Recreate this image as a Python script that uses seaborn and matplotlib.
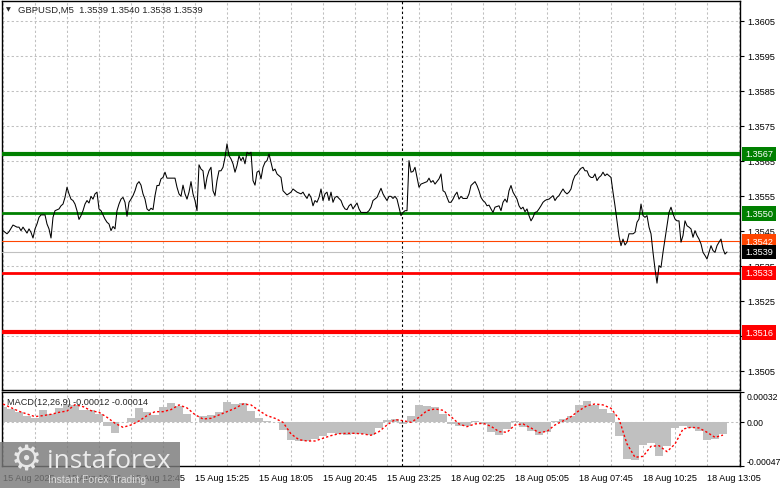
import numpy as np
import pandas as pd
import seaborn as sns
import matplotlib.pyplot as plt
import matplotlib.transforms as mtransforms
from matplotlib.patches import Rectangle

# GBPUSD M5 closes (bar number counted from the left edge)
price_bars = [
    0, 2, 3, 5, 7, 8, 9, 10, 12, 13,
    14, 15, 16, 17, 18, 19, 21, 22, 23, 24,
    25, 26, 28, 29, 30, 31, 32, 33, 34, 35,
    36, 37, 38, 39, 40, 41, 42, 43, 44, 45,
    46, 47, 48, 49, 50, 51, 52, 53, 54, 55,
    56, 57, 58, 59, 60, 61, 62, 63, 64, 65,
    66, 67, 68, 69, 70, 71, 72, 73, 74, 75,
    76, 77, 78, 79, 80, 81, 82, 84, 86, 87,
    88, 89, 90, 91, 92, 93, 94, 95, 96, 97,
    98, 99, 100, 101, 102, 103, 104, 105, 106, 107,
    108, 109, 110, 111, 112, 113, 114, 115, 116, 117,
    118, 119, 120, 121, 122, 123, 124, 125, 126, 127,
    128, 129, 130, 131, 132, 133, 134, 135, 136, 137,
    138, 139, 140, 142, 144, 145, 147, 149, 150, 151,
    152, 153, 154, 155, 156, 157, 158, 159, 160, 161,
    162, 163, 164, 165, 166, 167, 169, 170, 171, 172,
    173, 174, 175, 176, 177, 178, 179, 182, 183, 184,
    185, 187, 189, 190, 191, 192, 193, 194, 195, 196,
    197, 198, 199, 200, 201, 202, 203, 204, 205, 206,
    207, 208, 209, 212, 213, 214, 215, 216, 218, 219,
    220, 221, 222, 223, 224, 225, 226, 227, 228, 229,
    230, 232, 233, 234, 236, 237, 238, 239, 240, 241,
    242, 243, 244, 245, 246, 248, 249, 250, 251, 252,
    253, 254, 255, 256, 257, 258, 259, 260, 261, 262,
    263, 264, 265, 266, 267, 268, 269, 270, 271, 272,
    273, 274, 275, 276, 277, 278, 279, 280, 281, 282,
    283, 284, 285, 286, 287, 288, 289, 290, 291, 292,
    293, 294, 295, 296, 297, 298, 299, 300, 301, 302,
    303, 304, 305, 306, 307, 308, 309, 310, 311, 312,
    313, 314, 315, 316, 317, 318, 319, 320, 321, 322,
    323, 324, 325, 326, 327, 328, 329, 330, 331, 332,
    333, 334, 335, 336, 337, 338, 339, 340, 341, 342,
    343, 344, 345, 346, 347, 348, 349, 350, 351, 352,
    353, 354, 355, 356, 357, 358, 359, 360, 361, 362,
]
price_close = [
    1.35451, 1.35442, 1.35448, 1.35467, 1.35461, 1.35461, 1.35451, 1.35461, 1.35444, 1.35456,
    1.35446, 1.35430, 1.35456, 1.35470, 1.35489, 1.35496, 1.35496, 1.35470, 1.35456, 1.35430,
    1.35489, 1.35508, 1.35513, 1.35522, 1.35527, 1.35546, 1.35575, 1.35556, 1.35541, 1.35537,
    1.35527, 1.35508, 1.35483, 1.35494, 1.35508, 1.35527, 1.35537, 1.35530, 1.35549, 1.35541,
    1.35556, 1.35561, 1.35513, 1.35508, 1.35496, 1.35484, 1.35475, 1.35470, 1.35451, 1.35463,
    1.35456, 1.35508, 1.35527, 1.35541, 1.35546, 1.35532, 1.35492, 1.35532, 1.35541, 1.35551,
    1.35565, 1.35584, 1.35591, 1.35581, 1.35556, 1.35541, 1.35513, 1.35508, 1.35515, 1.35511,
    1.35551, 1.35580, 1.35580, 1.35599, 1.35603, 1.35618, 1.35601, 1.35601, 1.35601, 1.35575,
    1.35556, 1.35549, 1.35581, 1.35556, 1.35541, 1.35561, 1.35591, 1.35556, 1.35537, 1.35508,
    1.35639, 1.35627, 1.35622, 1.35570, 1.35603, 1.35622, 1.35632, 1.35565, 1.35551, 1.35594,
    1.35622, 1.35622, 1.35632, 1.35660, 1.35699, 1.35665, 1.35656, 1.35642, 1.35618, 1.35637,
    1.35665, 1.35651, 1.35661, 1.35642, 1.35675, 1.35670, 1.35675, 1.35594, 1.35581, 1.35618,
    1.35622, 1.35599, 1.35632, 1.35646, 1.35651, 1.35670, 1.35646, 1.35622, 1.35627, 1.35613,
    1.35608, 1.35603, 1.35565, 1.35553, 1.35561, 1.35570, 1.35561, 1.35556, 1.35561, 1.35551,
    1.35543, 1.35556, 1.35546, 1.35522, 1.35537, 1.35532, 1.35546, 1.35570, 1.35537, 1.35556,
    1.35561, 1.35537, 1.35561, 1.35532, 1.35546, 1.35549, 1.35537, 1.35522, 1.35513, 1.35511,
    1.35522, 1.35527, 1.35513, 1.35522, 1.35530, 1.35513, 1.35503, 1.35503, 1.35508, 1.35518,
    1.35537, 1.35546, 1.35572, 1.35556, 1.35546, 1.35537, 1.35549, 1.35549, 1.35543, 1.35549,
    1.35541, 1.35518, 1.35494, 1.35503, 1.35508, 1.35508, 1.35651, 1.35618, 1.35620, 1.35632,
    1.35603, 1.35575, 1.35584, 1.35591, 1.35601, 1.35589, 1.35594, 1.35584, 1.35599, 1.35613,
    1.35565, 1.35561, 1.35546, 1.35532, 1.35532, 1.35541, 1.35553, 1.35561, 1.35541, 1.35549,
    1.35543, 1.35543, 1.35556, 1.35580, 1.35591, 1.35580, 1.35565, 1.35546, 1.35537, 1.35532,
    1.35522, 1.35524, 1.35513, 1.35503, 1.35518, 1.35522, 1.35508, 1.35532, 1.35541, 1.35532,
    1.35565, 1.35580, 1.35561, 1.35551, 1.35541, 1.35522, 1.35513, 1.35518, 1.35505, 1.35513,
    1.35494, 1.35479, 1.35489, 1.35503, 1.35505, 1.35513, 1.35522, 1.35532, 1.35537, 1.35540,
    1.35541, 1.35546, 1.35551, 1.35537, 1.35546, 1.35551, 1.35561, 1.35570, 1.35561, 1.35556,
    1.35561, 1.35570, 1.35594, 1.35608, 1.35613, 1.35622, 1.35629, 1.35632, 1.35622, 1.35622,
    1.35608, 1.35603, 1.35603, 1.35613, 1.35594, 1.35603, 1.35608, 1.35618, 1.35608, 1.35613,
    1.35608, 1.35603, 1.35561, 1.35522, 1.35479, 1.35435, 1.35408, 1.35427, 1.35410, 1.35418,
    1.35442, 1.35442, 1.35442, 1.35446, 1.35475, 1.35484, 1.35527, 1.35494, 1.35489, 1.35494,
    1.35461, 1.35442, 1.35389, 1.35342, 1.35301, 1.35351, 1.35346, 1.35389, 1.35427, 1.35465,
    1.35503, 1.35518, 1.35499, 1.35484, 1.35479, 1.35479, 1.35418, 1.35437, 1.35479, 1.35465,
    1.35461, 1.35456, 1.35432, 1.35451, 1.35437, 1.35427, 1.35413, 1.35389, 1.35380, 1.35370,
    1.35389, 1.35408, 1.35394, 1.35389, 1.35408, 1.35418, 1.35427, 1.35399, 1.35384, 1.35390,
]

# MACD(12,26,9) sampled every 4 bars, values in 1e-5
macd_bars = list(range(0, 361, 4))
macd_hist = [
    15.7, 13.9, 11.0, 6.1, 3.9, 13.2, 8.9, 15.0, 19.2, 18.5,
    13.2, 12.5, 8.2, -3.9, -11.7, -0.4, 3.9, 15.0, 10.3, 7.5,
    15.7, 20.3, 16.7, 8.5, 0.4, 6.1, 7.8, 10.3, 21.0, 18.9,
    20.3, 12.1, 4.6, 1.4, 0.4, -8.2, -18.9, -19.9, -19.9, -17.8,
    -15.0, -11.4, -12.8, -13.9, -13.2, -13.2, -14.2, -6.8, 1.8, 2.8,
    -2.1, 6.8, 18.2, 17.4, 16.0, 8.5, -2.5, -4.3, -4.3, 0.7,
    -1.8, -10.3, -13.5, -7.5, 1.4, -5.7, -10.0, -13.9, -10.3, 0.7,
    3.2, 6.1, 18.2, 22.8, 18.2, 13.9, 9.6, -14.6, -39.5, -40.2,
    -24.6, -22.4, -36.0, -26.0, -6.8, -3.9, -6.1, -9.3, -18.9, -18.2,
    -13.0,
]
macd_signal = [
    19.2, 15.3, 11.4, 8.5, 5.7, 6.8, 8.2, 10.3, 11.7, 18.5,
    16.4, 12.1, 10.3, 5.0, -1.4, -5.7, -3.2, 1.1, 6.8, 11.0,
    11.0, 13.2, 18.2, 15.0, 7.8, 3.2, 3.9, 7.5, 11.0, 14.6,
    19.2, 18.2, 12.1, 6.8, 3.9, -0.4, -12.8, -18.9, -20.3, -20.3,
    -17.4, -14.6, -12.5, -12.1, -12.1, -12.8, -14.2, -10.3, -3.2, 2.5,
    1.4, -0.4, 5.0, 12.1, 13.9, 12.5, 5.7, -2.1, -5.0, -2.1,
    -1.4, -4.6, -10.3, -11.0, -3.2, -2.1, -6.4, -11.4, -10.0, -3.2,
    1.1, 5.7, 12.1, 17.4, 19.2, 18.2, 14.6, 3.2, -23.5, -37.7,
    -36.7, -26.0, -25.3, -31.7, -23.5, -7.5, -5.7, -6.4, -11.0, -16.4,
    -14.0,
]

label_bars = [0, 32, 64, 96, 128, 160, 192, 224, 256, 288, 320, 352]
label_text = ["15 Aug 2025", "15 Aug 10:05", "15 Aug 12:45", "15 Aug 15:25",
              "15 Aug 18:05", "15 Aug 20:45", "15 Aug 23:25", "18 Aug 02:25",
              "18 Aug 05:05", "18 Aug 07:45", "18 Aug 10:25", "18 Aug 13:05"]
price_ticks = [1.3505, 1.3515, 1.3525, 1.3535, 1.3545, 1.3555,
               1.3565, 1.3575, 1.3585, 1.3595, 1.3605]
separator_bar = 199.5

levels = [1.3567, 1.3550, 1.3542, 1.3539, 1.3533, 1.3516]
level_colors = ["#008000", "#008000", "#FF4500", "#C0C0C0", "#FF0000", "#FF0000"]
level_box = ["#008000", "#008000", "#FF4500", "#000000", "#FF0000", "#FF0000"]
level_widths = [3.0, 2.0, 0.8, 0.8, 2.0, 3.0]

sns.set_style("white")
plt.rcParams["font.family"] = ["Liberation Sans", "DejaVu Sans"]
FS = 6.6
GRID = "#C0C0C0"
DASH = (0, (2.2, 2.2))

W, H = 781, 489
fig = plt.figure(figsize=(W / 100, H / 100), dpi=100)


def px_rect(x0, y0, x1, y1):
    return [x0 / W, 1 - y1 / H, (x1 - x0) / W, (y1 - y0) / H]


ax = fig.add_axes(px_rect(2, 2, 740, 391))
axm = fig.add_axes(px_rect(2, 393, 740, 467))

for a in (ax, axm):
    a.set_xlim(-0.5, 368.5)
    for s in a.spines.values():
        s.set_color("black")
        s.set_linewidth(1.0)
    a.set_xticks(list(range(0, 369, 16)))
    a.grid(axis="x", color=GRID, linestyle=DASH, linewidth=0.75)
    a.axvline(separator_bar, color="black", linestyle=DASH, linewidth=0.8, zorder=3)

# ---- main price panel
price_df = pd.DataFrame({"bar": price_bars, "close": price_close})
sns.lineplot(data=price_df, x="bar", y="close", ax=ax, color="black",
             linewidth=0.75, estimator=None, zorder=4)
ax.set_ylim(1.349957, 1.361071)
ax.set_yticks(price_ticks)
ax.set_yticklabels([f"{v:.4f}" for v in price_ticks])
ax.yaxis.tick_right()
ax.tick_params(axis="y", length=3, width=0.8, pad=2, labelsize=FS, colors="black")
ax.tick_params(axis="x", length=0, labelbottom=False)
ax.grid(axis="y", color=GRID, linestyle=DASH, linewidth=0.75)
ax.set_xlabel("")
ax.set_ylabel("")

lab_tf = mtransforms.blended_transform_factory(ax.transAxes, ax.transData)
for lvl, lc, bc, lw in zip(levels, level_colors, level_box, level_widths):
    ax.axhline(lvl, color=lc, linewidth=lw, zorder=3)
    ax.text((745 - 2) / 738, lvl, f"{lvl:.4f}", transform=lab_tf, ha="left",
            va="center", fontsize=FS, color="white", clip_on=False, zorder=6,
            bbox=dict(boxstyle="square,pad=0.32", fc=bc, ec=bc, lw=0))

fig.text(6 / W, 1 - 10 / H, "\u25BC", fontsize=4.5, va="center", family="DejaVu Sans")
fig.text(18 / W, 1 - 10 / H, "GBPUSD,M5  1.3539 1.3540 1.3538 1.3539",
         fontsize=FS + 0.2, va="center")

# ---- MACD panel
axm.bar(macd_bars, np.array(macd_hist) * 1e-5, width=4, color="#C0C0C0",
        linewidth=0, zorder=2)
sig_df = pd.DataFrame({"bar": macd_bars, "signal": np.array(macd_signal) * 1e-5})
sns.lineplot(data=sig_df, x="bar", y="signal", ax=axm, color="#FF0000",
             linewidth=1.0, linestyle=(0, (1.6, 1.6)), estimator=None, zorder=4)
axm.axhline(0, color=GRID, linestyle=DASH, linewidth=0.75, zorder=1)
axm.set_ylim(-0.00047, 0.00032)
axm.yaxis.tick_right()
axm.set_yticks([-0.00047, 0.0, 0.00032])
axm.set_yticklabels(["-0.00047", "0.00", "0.00032"])
ticklabels = axm.get_yticklabels()
ticklabels[0].set_va("bottom")
ticklabels[2].set_va("top")
axm.tick_params(axis="y", length=3, width=0.8, pad=1.5, labelsize=6.2, colors="black")
axm.set_xticklabels([label_text[label_bars.index(b)] if b in label_bars else ""
                     for b in range(0, 369, 16)], ha="left")
axm.tick_params(axis="x", length=0, pad=5, labelsize=FS, colors="black")
axm.set_xlabel("")
axm.set_ylabel("")
axm.text((7 - 2) / 738, 0.875, "MACD(12,26,9) -0.00012 -0.00014",
         transform=axm.transAxes, fontsize=FS, va="center", zorder=6)

# ---- watermark
fig.add_artist(Rectangle((0, 0), 180 / W, 46 / H, transform=fig.transFigure,
                         facecolor="#7a7a7a", edgecolor="none", alpha=0.82, zorder=10))
fig.text(26 / W, 1 - 461 / H, "\u2699", fontsize=25, ha="center", va="center",
         color="#e8e8e8", family="DejaVu Sans", zorder=11)
fig.text(47 / W, 1 - 468 / H, "instaforex", fontsize=19, family="Open Sans",
         color="#ececec", va="baseline", zorder=11)
fig.text(48 / W, 1 - 480 / H, "Instant Forex Trading", fontsize=7.5,
         color="#dcdcdc", va="center", zorder=11)

fig.savefig("out.png", dpi=100)
